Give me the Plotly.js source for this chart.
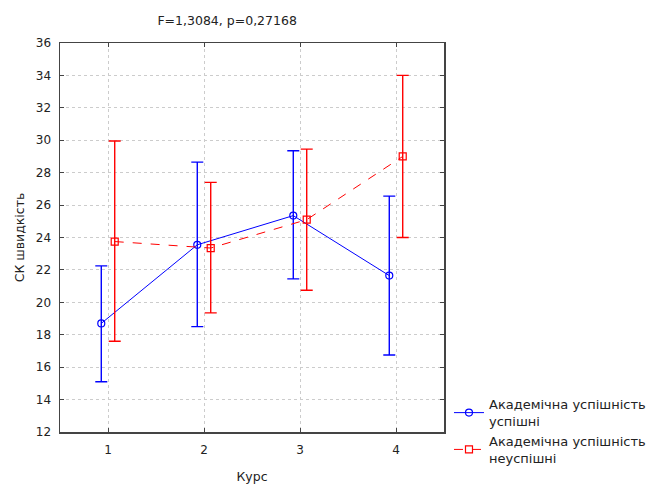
<!DOCTYPE html>
<html><head><meta charset="utf-8">
<script src="https://cdn.plot.ly/plotly-3.0.1.min.js"></script>
<style>html,body{margin:0;padding:0;background:#fff}#chart{width:649px;height:484px}</style>
</head><body><div id="chart"></div>
<script>
const courses = [1, 2, 3, 4];
const tickLabels = ['1', '2', '3', '4'];
const successMean = [18.7, 23.55, 25.35, 21.65];
const successLow = [15.1, 18.5, 21.45, 16.75];
const successHigh = [22.25, 28.65, 29.35, 26.55];
const failMean = [23.75, 23.35, 25.1, 29.0];
const failLow = [17.6, 19.35, 20.75, 24.0];
const failHigh = [29.95, 27.4, 29.45, 34.0];
const seriesNames = ['Академічна успішність<br>успішні', 'Академічна успішність<br>неуспішні'];
const offset = 0.07;

function mk(mean, low, high, shift, color, dash, symbol, name) {
  return {
    x: courses.map(c => c + shift), y: mean, name: name,
    type: 'scatter', mode: 'lines+markers',
    line: {color: color, width: 1, dash: dash},
    marker: {symbol: symbol, size: 7, color: color, line: {color: color, width: 1.2}},
    error_y: {type: 'data', symmetric: false,
      array: high.map((h, i) => h - mean[i]),
      arrayminus: low.map((l, i) => mean[i] - l),
      color: color, thickness: 1.4, width: 6}
  };
}
const data = [
  mk(successMean, successLow, successHigh, -offset, '#0000ff', 'solid', 'circle-open', seriesNames[0]),
  mk(failMean, failLow, failHigh, offset, '#ff0000', 'dash', 'square-open', seriesNames[1])
];
const FONT = 'DejaVu Sans, Arial';
const axisCommon = {
  showline: true, linecolor: '#444', linewidth: 1.5, mirror: 'ticks',
  ticks: 'inside', ticklen: 4, tickcolor: '#444',
  showgrid: true, gridcolor: '#cccccc', griddash: 'dot', gridwidth: 1,
  zeroline: false, tickfont: {family: FONT, size: 12, color: '#222'}
};
const layout = {
  width: 649, height: 484,
  margin: {l: 60, r: 205, t: 43, b: 52, autoexpand: false},
  paper_bgcolor: '#fff', plot_bgcolor: '#fff',
  font: {family: FONT, size: 12, color: '#222'},
  title: {text: 'F=1,3084, p=0,27168', x: 0.35, xanchor: 'center', y: 0.958, yanchor: 'middle',
    font: {family: FONT, size: 12.5, color: '#222'}},
  xaxis: Object.assign({}, axisCommon, {range: [0.5, 4.5], tickvals: courses, ticktext: tickLabels,
    ticklabelstandoff: 6,
    title: {text: 'Курс', standoff: 16, font: {family: FONT, size: 12.5}}}),
  yaxis: Object.assign({}, axisCommon, {range: [12, 36], dtick: 2, ticklabelstandoff: 5,
    title: {text: 'СК швидкість', standoff: 8, font: {family: FONT, size: 12.5}}}),
  showlegend: true,
  legend: {x: 1.013, xanchor: 'left', y: 0.11, yanchor: 'top', bgcolor: 'rgba(0,0,0,0)',
    font: {family: FONT, size: 13, color: '#222'}, itemwidth: 30, tracegroupgap: 6}
};
Plotly.newPlot('chart', data, layout, {displayModeBar: false, staticPlot: true});
</script></body></html>
